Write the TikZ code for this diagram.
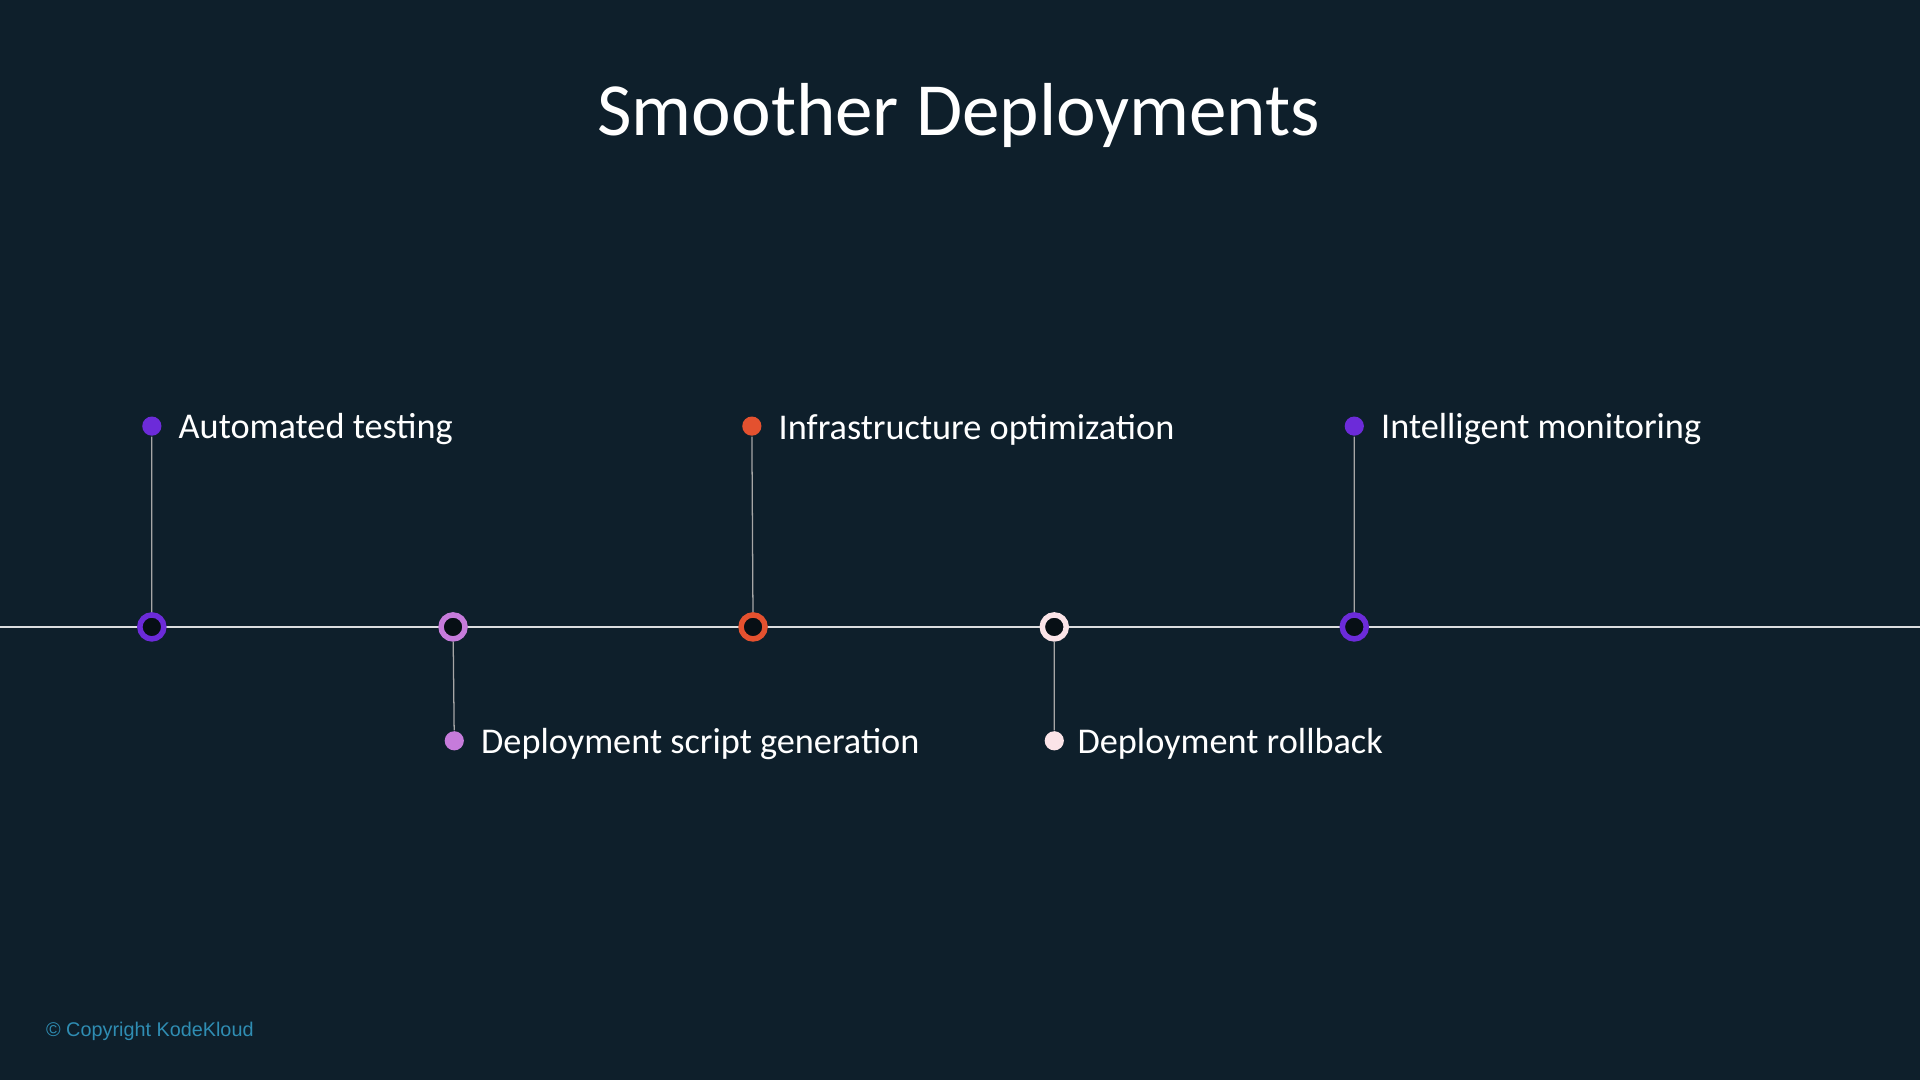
\documentclass[tikz,border=0pt]{standalone}
\usepackage{fontspec}
\setmainfont{Carlito}
\newfontfamily\copyfont{Liberation Sans}
\usetikzlibrary{positioning}
\definecolor{bgnavy}{HTML}{0E1F2B}
\definecolor{kpurple}{HTML}{6C2BD9}
\definecolor{klilac}{HTML}{C67BDB}
\definecolor{korange}{HTML}{E4512F}
\definecolor{kblush}{HTML}{FBE4E8}
\definecolor{kteal}{HTML}{2F8DB3}
\tikzset{
  ring/.style={circle,draw=#1,line width=1.3pt,fill=bgnavy!50!black,minimum size=0.2cm,inner sep=0pt},
  dot/.style={circle,fill=#1,minimum size=0.16cm,inner sep=0pt},
  lbl/.style={text=white,font=\fontsize{8.6}{10}\selectfont,anchor=west,inner sep=0pt,yshift=-0.8pt},
  stem/.style={draw=gray!70,line width=0.3pt}
}
\begin{document}
\begin{tikzpicture}[x=16cm/1568,y=-9cm/882]
  \fill[bgnavy] (0,0) rectangle (1568,882);
  \useasboundingbox (0,0) rectangle (1568,882);
  \node[text=white,font=\fontsize{17.8}{21}\selectfont] (title) at (783,94) {Smoother Deployments};
  \coordinate (lstart) at (0,512);
  \coordinate (lend) at (1568,512);
  \draw[white!85!bgnavy,line width=0.4pt] (lstart) -- (lend);
  % markers on the line
  \node[ring=kpurple] (m1) at (124,512) {};
  \node[ring=klilac]  (m2) at (370,512) {};
  \node[ring=korange] (m3) at (615,512) {};
  \node[ring=kblush]  (m4) at (861,512) {};
  \node[ring=kpurple] (m5) at (1106,512) {};
  % label dots
  \node[dot=kpurple] (d1) at (124,348) {};
  \node[dot=klilac]  (d2) at (371,605) {};
  \node[dot=korange] (d3) at (614,348) {};
  \node[dot=kblush]  (d4) at (861,605) {};
  \node[dot=kpurple] (d5) at (1106,348) {};
  \path[stem] (d1) -- (m1) (d2) -- (m2) (d3) -- (m3) (d4) -- (m4) (d5) -- (m5);
  \node[lbl,right=0.13cm of d1] {Automated testing};
  \node[lbl,right=0.13cm of d2] {Deployment script generation};
  \node[lbl,right=0.13cm of d3] {Infrastructure optimization};
  \node[lbl,right=0.1cm of d4] {Deployment rollback};
  \node[lbl,right=0.13cm of d5] {Intelligent monitoring};
  \node[text=kteal,font=\copyfont\fontsize{4.7}{5}\selectfont,anchor=west,inner sep=0pt] (copy) at (37,842) {© Copyright KodeKloud};
\end{tikzpicture}
\end{document}
